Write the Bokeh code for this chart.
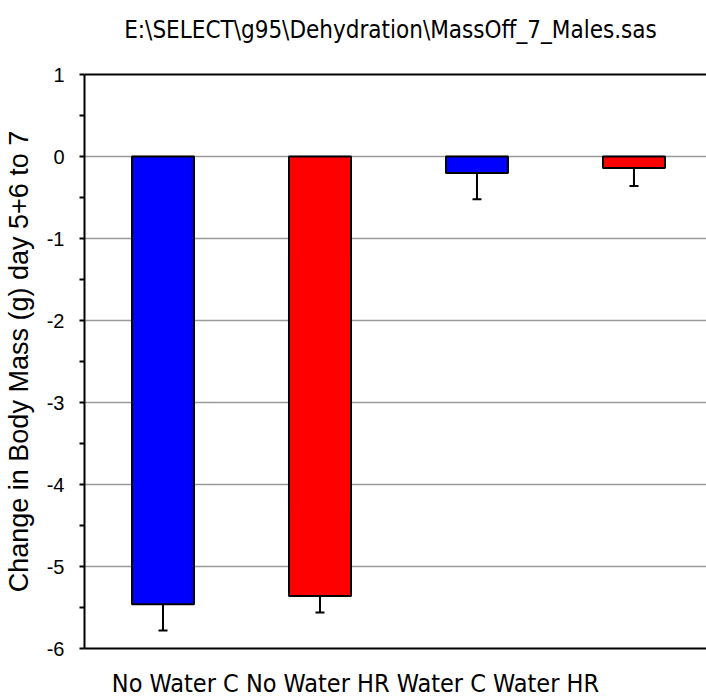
from bokeh.plotting import figure
from bokeh.models import (LinearAxis, FixedTicker, Range1d, Whisker, TeeHead,
                          ColumnDataSource, Grid)
from bokeh.embed import file_html
from bokeh.resources import INLINE

# ---- data ----
categories = ["No Water C", "No Water HR", "Water C", "Water HR"]
means = [-5.46, -5.36, -0.20, -0.14]
errors = [0.32, 0.20, 0.32, 0.22]
colors = ["#0000ff", "#ff0000", "#0000ff", "#ff0000"]
y_ticks = [-6, -5, -4, -3, -2, -1, 0, 1]
grid_ticks = [-5, -4, -3, -2, -1, 0]
title_text = "E:\\SELECT\\g95\\Dehydration\\MassOff_7_Males.sas"
y_label = "Change in Body Mass (g) day 5+6 to 7"

# ---- layout constants (anchor points for the free-standing texts) ----
title_anchor_x = 2.449
cat_anchor_x = 2.226

positions = [i + 1 for i in range(len(categories))]
lower = [m - e for m, e in zip(means, errors)]
minor = [t + 0.5 for t in y_ticks[:-1]]

NARROW = "'Liberation Sans Narrow', 'Arial Narrow', 'DejaVu Sans Condensed', sans-serif"
REG = "'Liberation Sans', Arial, sans-serif"

src = ColumnDataSource(dict(x=positions, means=means, lower=lower, color=colors))

p = figure(width=706, height=700, x_range=Range1d(0.5, 4.462), y_range=Range1d(-6, 1),
           output_backend="svg", toolbar_location=None,
           x_axis_type=None, y_axis_type=None,
           min_border_left=84, min_border_right=0, min_border_top=74, min_border_bottom=52)
p.outline_line_color = None
p.background_fill_color = "white"
p.border_fill_color = "white"

grid = Grid(dimension=1, ticker=FixedTicker(ticks=grid_ticks),
            grid_line_color="#9a9a9a", grid_line_width=1.5)
p.add_layout(grid)

yaxis = LinearAxis(ticker=FixedTicker(ticks=y_ticks, minor_ticks=minor),
                   major_label_overrides={t: str(t) for t in y_ticks},
                   axis_label=y_label,
                   axis_line_width=2, axis_line_color="black",
                   major_tick_in=0, major_tick_out=5, major_tick_line_width=2,
                   minor_tick_in=0, minor_tick_out=5, minor_tick_line_width=2,
                   major_label_text_font=REG, major_label_text_font_size="20px",
                   major_label_text_color="black", major_label_standoff=15,
                   axis_label_text_font=REG, axis_label_text_font_size="27px",
                   axis_label_text_font_style="normal", axis_label_text_color="black",
                   axis_label_standoff=10)
p.add_layout(yaxis, "left")

bottom = LinearAxis(ticker=FixedTicker(ticks=[cat_anchor_x]),
                    major_label_overrides={cat_anchor_x: " ".join(categories)},
                    axis_line_width=2, axis_line_color="black",
                    major_tick_out=0, major_tick_in=0, minor_tick_out=0, minor_tick_in=0,
                    major_label_text_font=NARROW, major_label_text_font_size="25px",
                    major_label_text_color="black", major_label_text_line_height=1.0,
                    major_label_standoff=20)
p.add_layout(bottom, "below")

top = LinearAxis(ticker=FixedTicker(ticks=[title_anchor_x]),
                 major_label_overrides={title_anchor_x: title_text},
                 axis_line_width=2, axis_line_color="black",
                 major_tick_out=0, major_tick_in=0, minor_tick_out=0, minor_tick_in=0,
                 major_label_text_font=NARROW, major_label_text_font_size="24px",
                 major_label_text_color="black", major_label_text_line_height=1.0,
                 major_label_standoff=31)
p.add_layout(top, "above")

p.vbar(x="x", width=0.395, top=0, bottom="means", source=src,
       fill_color="color", line_color="black", line_width=2)

wh = Whisker(base="x", lower="lower", upper="means", source=src, dimension="height",
             line_color="black", line_width=2,
             upper_head=None, lower_head=TeeHead(size=9, line_width=2, line_color="black"))
p.add_layout(wh)

open("out.html", "w").write(file_html(p, INLINE))
